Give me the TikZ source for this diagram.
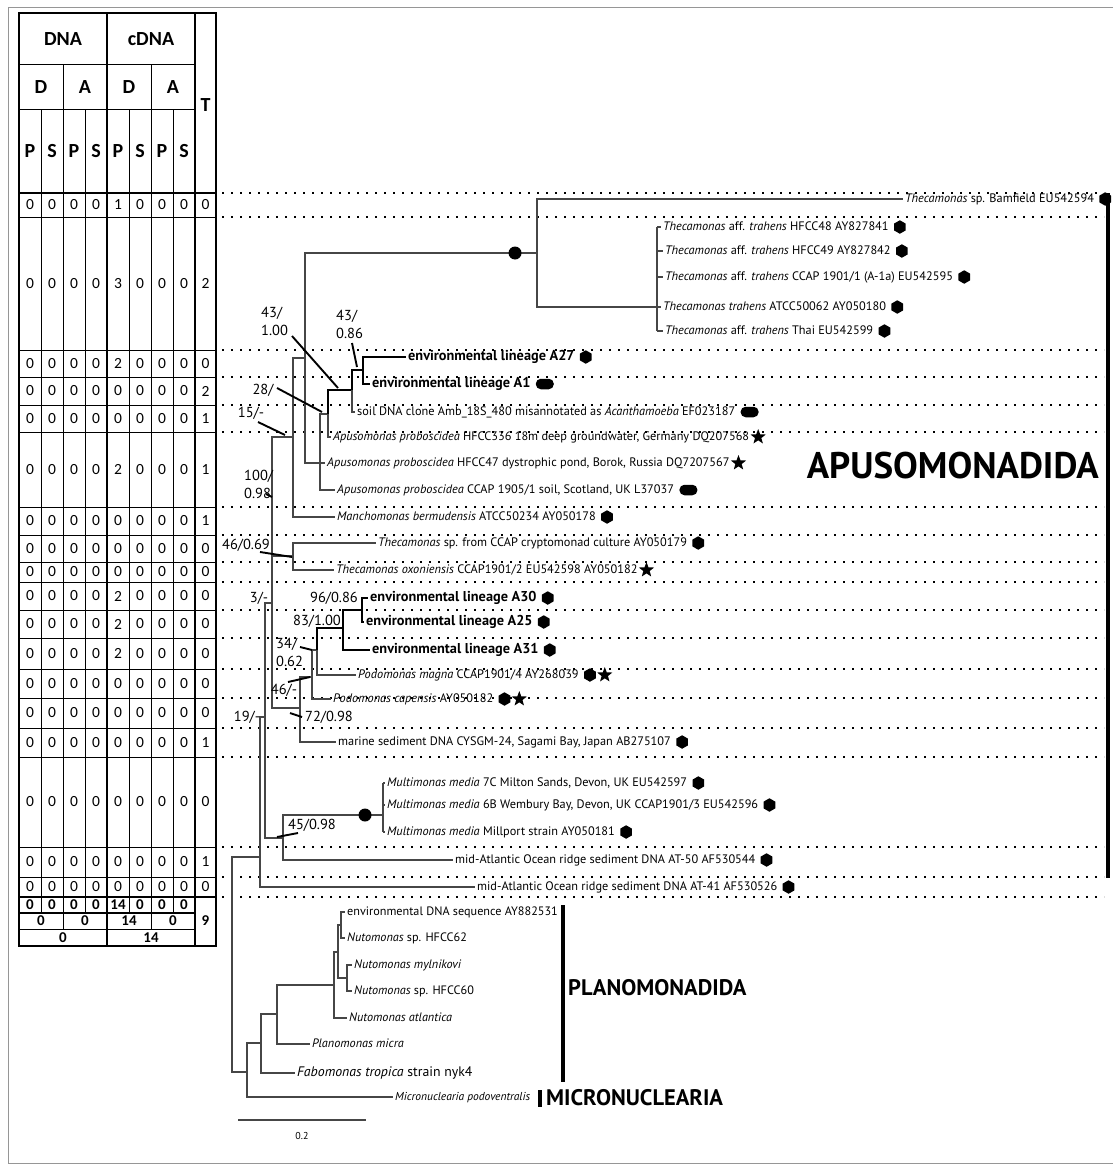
\documentclass[tikz,border=0pt]{standalone}
\usepackage{fontspec}
\setmainfont{PT Sans}
\newfontfamily\tabfont{Carlito}
\usetikzlibrary{positioning,shapes.geometric}
\definecolor{treegray}{RGB}{70,70,70}
\definecolor{framegray}{RGB}{150,150,150}

\begin{document}
\begin{tikzpicture}[x=1pt,y=-1pt,
  br/.style={draw=treegray, line width=1.1pt},
  env/.style={draw=black, line width=2.3pt},
  ptr/.style={draw=black, line width=1.9pt},
  rowdots/.style={draw=black, line width=1.8pt, dash pattern=on 1.8pt off 7.2pt},
  rule/.style={draw=black, line width=0.8pt},
  heavy/.style={draw=black, line width=2.6pt, line cap=rect},
  cell/.style={font=\tabfont\fontsize{15.5}{17}\selectfont, inner sep=0pt},
  hcell/.style={font=\tabfont\bfseries\fontsize{20}{22}\selectfont, inner sep=0pt},
  tcell/.style={font=\tabfont\bfseries\fontsize{15}{17}\selectfont, inner sep=0pt},
  leaf/.style={anchor=west, inner xsep=2pt, inner ysep=0pt, text height=8.5pt, text depth=2.5pt,
    font=\fontsize{12.3}{14}\selectfont},
  envleaf/.style={leaf, font=\bfseries\fontsize{14.3}{16}\selectfont},
  pleaf/.style={leaf, font=\fontsize{12.2}{14}\selectfont},
  bs/.style={font=\fontsize{14.5}{18}\selectfont, inner sep=0pt, align=left},
  grp/.style={font=\bfseries\fontsize{37}{40}\selectfont, inner sep=0pt},
  grpb/.style={font=\bfseries\fontsize{22.5}{25}\selectfont, inner sep=0pt},
  hexm/.style={regular polygon, regular polygon sides=6, shape border rotate=30,
    fill=black, inner sep=0pt, minimum size=13.5pt},
  pillm/.style={rectangle, rounded corners=5pt, fill=black, inner sep=0pt,
    minimum width=18pt, minimum height=10.5pt},
  starm/.style={star, star points=5, star point ratio=2.4, fill=black, inner sep=0pt,
    minimum size=16pt},
  knot/.style={circle, fill=black, inner sep=0pt, minimum size=13pt}
]
\useasboundingbox (0,0) rectangle (1112,1175);
\draw[framegray, line width=0.8pt] (8,7) rectangle (1113,1163);

% Table header
\foreach \cx in {19,107,195,216} \draw[heavy] (\cx,13) -- (\cx,946);
\foreach \cx in {63,151} \draw[rule] (\cx,64) -- (\cx,929);
\foreach \cx in {41,85,129,173} \draw[rule] (\cx,109) -- (\cx,913);
\draw[heavy] (19,13) -- (216,13);
\draw[rule] (19,64) -- (195,64);
\draw[rule] (19,109) -- (195,109);
\node[hcell] (hdna) at (63,39) {DNA};
\node[hcell] (hcdna) at (151,39) {cDNA};
\foreach \cx/\lt [count=\i] in {41/D,85/A,129/D,173/A}
  \node[hcell] (hda\i) at (\cx,87) {\lt};
\foreach \cx/\lt [count=\i] in {30/P,52/S,74/P,96/S,118/P,140/S,162/P,184/S}
  \node[hcell] (hps\i) at (\cx,151) {\lt};
\node[hcell] (ht) at (205.5,105) {T};

% Table rows and dotted guide lines
\draw[rowdots] (222,193) -- (1104,193);
\foreach \ya/\yb/\dv/\tv [count=\r] in {193/217/1/0, 217/350/3/2, 350/377/2/0,
    377/405/0/2, 405/432/0/1, 432/507/2/1, 507/535/0/1, 535/562/0/0, 562/582/0/0,
    582/610/2/0, 610/638/2/0, 638/669/2/0, 669/698/0/0, 698/728/0/0, 728/757/0/1,
    757/847/0/0, 847/877/0/1, 877/897/0/0}{
  \pgfmathsetmacro\ym{(\ya+\yb)/2}
  \foreach \cx [count=\c] in {30,52,74,96,140,162,184}
    \node[cell] (d\r-\c) at (\cx,\ym) {0};
  \node[cell] (d\r-e) at (118,\ym) {\dv};
  \node[cell] (d\r-t) at (205.5,\ym) {\tv};
  \draw[rule] (19,\yb) -- (216,\yb);
  \draw[rowdots] (222,\yb) -- (1104,\yb);
}
\draw[heavy] (19,193) -- (216,193);

% Totals
\draw[heavy] (19,897) -- (216,897);
\draw[heavy] (19,913) -- (195,913);
\draw[rule] (19,929) -- (195,929);
\draw[heavy] (19,946) -- (216,946);
\foreach \cx/\v [count=\c] in {30/0,52/0,74/0,96/0,118/14,140/0,162/0,184/0}
  \node[tcell] (sa\c) at (\cx,905) {\v};
\foreach \cx/\v [count=\c] in {41/0,85/0,129/14,173/0}
  \node[tcell] (sb\c) at (\cx,921) {\v};
\foreach \cx/\v [count=\c] in {63/0,151/14}
  \node[tcell] (sc\c) at (\cx,937.5) {\v};
\node[tcell] (stot) at (205.5,921) {9};

% Leaves of Apusomonadida
\node[leaf] (l1) at (903,199) {\textit{Thecamonas} sp. Bamfield EU542594};
\node[leaf] (l2) at (661,227) {\textit{Thecamonas} aff. \textit{trahens} HFCC48 AY827841};
\node[leaf] (l3) at (663,251) {\textit{Thecamonas} aff. \textit{trahens} HFCC49 AY827842};
\node[leaf] (l4) at (663,277) {\textit{Thecamonas} aff. \textit{trahens} CCAP 1901/1 (A-1a) EU542595};
\node[leaf] (l5) at (661,307) {\textit{Thecamonas trahens} ATCC50062 AY050180};
\node[leaf] (l6) at (663,331) {\textit{Thecamonas} aff. \textit{trahens} Thai EU542599};
\node[envleaf] (l7) at (406,357) {environmental lineage A27};
\node[envleaf] (l8) at (370,384) {environmental lineage A1};
\node[leaf] (l9) at (355,412) {soil DNA clone Amb\_18S\_480 misannotated as \textit{Acanthamoeba} EF023187};
\node[leaf] (l10) at (331,437) {\textit{Apusomonas proboscidea} HFCC336 18m deep groundwater, Germany DQ207568};
\node[leaf] (l11) at (325,463) {\textit{Apusomonas proboscidea} HFCC47 dystrophic pond, Borok, Russia DQ7207567};
\node[leaf] (l12) at (335,490) {\textit{Apusomonas proboscidea} CCAP 1905/1 soil, Scotland, UK L37037};
\node[leaf] (l13) at (335,517) {\textit{Manchomonas bermudensis} ATCC50234 AY050178};
\node[leaf] (l14) at (376,543) {\textit{Thecamonas} sp. from CCAP cryptomonad culture AY050179};
\node[leaf] (l15) at (334,570) {\textit{Thecamonas oxoniensis} CCAP1901/2 EU542598 AY050182};
\node[envleaf] (l16) at (368,598) {environmental lineage A30};
\node[envleaf] (l17) at (364,622) {environmental lineage A25};
\node[envleaf] (l18) at (370,650) {environmental lineage A31};
\node[leaf] (l19) at (356,675) {\textit{Podomonas magna} CCAP1901/4 AY268039};
\node[leaf] (l20) at (331,699) {\textit{Podomonas capensis} AY050182};
\node[leaf] (l21) at (336,742) {marine sediment DNA CYSGM-24, Sagami Bay, Japan AB275107};
\node[leaf] (l22) at (385,783) {\textit{Multimonas media} 7C Milton Sands, Devon, UK EU542597};
\node[leaf] (l23) at (385,805) {\textit{Multimonas media} 6B Wembury Bay, Devon, UK CCAP1901/3 EU542596};
\node[leaf] (l24) at (385,832) {\textit{Multimonas media} Millport strain AY050181};
\node[leaf] (l25) at (453,860) {mid-Atlantic Ocean ridge sediment DNA AT-50 AF530544};
\node[leaf] (l26) at (475,887) {mid-Atlantic Ocean ridge sediment DNA AT-41 AF530526};

% Markers after the names
\foreach \i in {1,2,3,4,5,6,7,13,14,16,17,18,19,20,21,22,23,24,25,26}
  \node[hexm, right=3pt of l\i] (h\i) {};
\foreach \i in {8,9,12} \node[pillm, right=3pt of l\i] (o\i) {};
\foreach \i in {10,11,15} \node[starm, right=2pt of l\i] (s\i) {};
\foreach \i in {19,20} \node[starm, right=4pt of h\i] (s\i) {};

% Internal nodes
\coordinate (nTc) at (537,253);
\coordinate (nTr) at (657,307);
\coordinate (nA) at (305,358);
\coordinate (nB) at (293,437);
\coordinate (nC) at (320,463);
\coordinate (nD) at (328,414);
\coordinate (nE) at (352,390);
\coordinate (nF) at (363,370);
\coordinate (nG) at (272,603);
\coordinate (nH) at (293,556);
\coordinate (nI) at (300,708);
\coordinate (nJ) at (312,677);
\coordinate (nK) at (317,650);
\coordinate (nL) at (343,628);
\coordinate (nM) at (362,610);
\coordinate (nN) at (265,717);
\coordinate (nO) at (283,838);
\coordinate (nP) at (383,815);
\coordinate (nQ) at (260,857);
\coordinate (nR) at (232,965);

% Branches
\draw[br] (nA) |- (nTc);
\draw[br] (nTc) |- (l1.west);
\draw[br] (nTc) |- (nTr);
\draw[br] (nTr |- l2.west) -- (nTr |- l6.west);
\foreach \i in {2,...,6} \draw[br] (nTr |- l\i.west) -- (l\i.west);
\node[knot] (k1) at (515,253) {};
\draw[br] (nA) |- (nC);
\draw[br] (nB) |- (nA);
\draw[br] (nB) |- (l13.west);
\draw[br] (nC) |- (nD);
\draw[br] (nC) -- (l11.west);
\draw[br] (nC) |- (l12.west);
\draw[br] (nD) |- (l10.west);
\draw[env] (nD) |- (nE);
\draw[br] (nE) |- (l9.west);
\draw[env] (nE) |- (nF);
\draw[env] (nF) |- (l7.west);
\draw[env] (nF) |- (l8.west);
\draw[br] (nG) |- (nB);
\draw[br] (nG) |- (nH);
\draw[br] (nG) |- (nI);
\draw[br] (nH) |- (l14.west);
\draw[br] (nH) |- (l15.west);
\draw[br] (nI) |- (nJ);
\draw[br] (nI) |- (l21.west);
\draw[br] (nJ) |- (nK);
\draw[br] (nJ) |- (l20.west);
\draw[br] (nK) |- (l19.west);
\draw[env] (nK) |- (nL);
\draw[env] (nL) |- (nM);
\draw[env] (nL) |- (l18.west);
\draw[env] (nM) |- (l16.west);
\draw[env] (nM) |- (l17.west);
\draw[br] (nN) |- (nG);
\draw[br] (nN) |- (nO);
\draw[br] (nO) |- (nP);
\draw[br] (nO) |- (l25.west);
\draw[br] (nP |- l22.west) -- (nP |- l24.west);
\foreach \i in {22,23,24} \draw[br] (nP |- l\i.west) -- (l\i.west);
\node[knot] (k2) at (365,815) {};
\draw[br] (nQ) |- (nN);
\draw[br] (nQ) |- (l26.west);

% Planomonadida and Micronuclearia
\node[pleaf] (p1) at (345,912) {environmental DNA sequence AY882531};
\node[pleaf] (p2) at (345,938) {\textit{Nutomonas} sp. HFCC62};
\node[pleaf] (p3) at (352,965) {\textit{Nutomonas mylnikovi}};
\node[pleaf] (p4) at (352,991) {\textit{Nutomonas} sp. HFCC60};
\node[pleaf] (p5) at (347,1018) {\textit{Nutomonas atlantica}};
\node[pleaf] (p6) at (310,1044) {\textit{Planomonas micra}};
\node[leaf, font=\fontsize{13.8}{16}\selectfont] (p7) at (295,1073) {\textit{Fabomonas tropica} strain nyk4};
\node[leaf, font=\fontsize{11.5}{13}\selectfont] (m1) at (393,1097) {\textit{Micronuclearia podoventralis}};
\coordinate (q1) at (247,1072);
\coordinate (q2) at (261,1043);
\coordinate (q3) at (277,1014);
\coordinate (q4) at (334,985);
\coordinate (q5) at (338,952);
\coordinate (q6) at (347,978);
\coordinate (q7) at (341,925);
\draw[br] (nR) |- (nQ);
\draw[br] (nR) |- (q1);
\draw[br] (q1) |- (q2);
\draw[br] (q1) |- (m1.west);
\draw[br] (q2) |- (q3);
\draw[br] (q2) |- (p7.west);
\draw[br] (q3) |- (q4);
\draw[br] (q3) |- (p6.west);
\draw[br] (q4) |- (q5);
\draw[br] (q4) |- (p5.west);
\draw[br] (q5) |- (q7);
\draw[br] (q5) |- (q6);
\draw[br] (q7) |- (p1.west);
\draw[br] (q7) |- (p2.west);
\draw[br] (q6) |- (p3.west);
\draw[br] (q6) |- (p4.west);

% Support values
\node[bs, anchor=west] (b1) at (261,321) {43/\\1.00};
\node[bs, anchor=west] (b2) at (336,324) {43/\\0.86};
\node[bs] (b3) at (263,390) {28/};
\node[bs] (b4) at (251,413) {15/-};
\node[bs, anchor=west] (b5) at (244,484) {100/\\0.98};
\node[bs] (b6) at (246,545) {46/0.69};
\node[bs] (b7) at (259,598) {3/-};
\node[bs] (b8) at (334,598) {96/0.86};
\node[bs] (b9) at (317,621) {83/1.00};
\node[bs, anchor=west] (b10) at (276,652) {34/\\0.62};
\node[bs] (b11) at (284,690) {46/-};
\node[bs] (b12) at (329,717) {72/0.98};
\node[bs] (b13) at (247,717) {19/-};
\node[bs] (b14) at (312,825) {45/0.98};
\foreach \ax/\ay/\bx/\by [count=\i] in {292/336/338/388, 352/343/357/367,
    277/388/322/412, 258/422/285/435, 266/494/272/497, 260/552/292/557,
    300/647/312/650, 288/682/310/677, 290/713/302/717, 277/837/298/833}{
  \coordinate (pa\i) at (\ax,\ay);
  \coordinate (pb\i) at (\bx,\by);
  \draw[ptr] (pa\i) -- (pb\i);
}

% Clade bars and names
\draw[line width=4pt] (1108,193) -- (1108,878);
\node[grp, anchor=east] (gapu) at (1099,466) {APUSOMONADIDA};
\draw[line width=4pt] (563,905) -- (563,1082);
\node[grpb, anchor=west] (gpla) at (568,988) {PLANOMONADIDA};
\draw[line width=4pt] (540,1090) -- (540,1107);
\node[grpb, anchor=west] (gmic) at (546,1098) {MICRONUCLEARIA};

% Scale bar
\coordinate (sbl) at (238,1120);
\coordinate (sbr) at (366,1120);
\draw[br] (sbl) -- (sbr);
\node[font=\fontsize{10}{11}\selectfont] (sbt) at (302,1136) {0.2};
\end{tikzpicture}
\end{document}
